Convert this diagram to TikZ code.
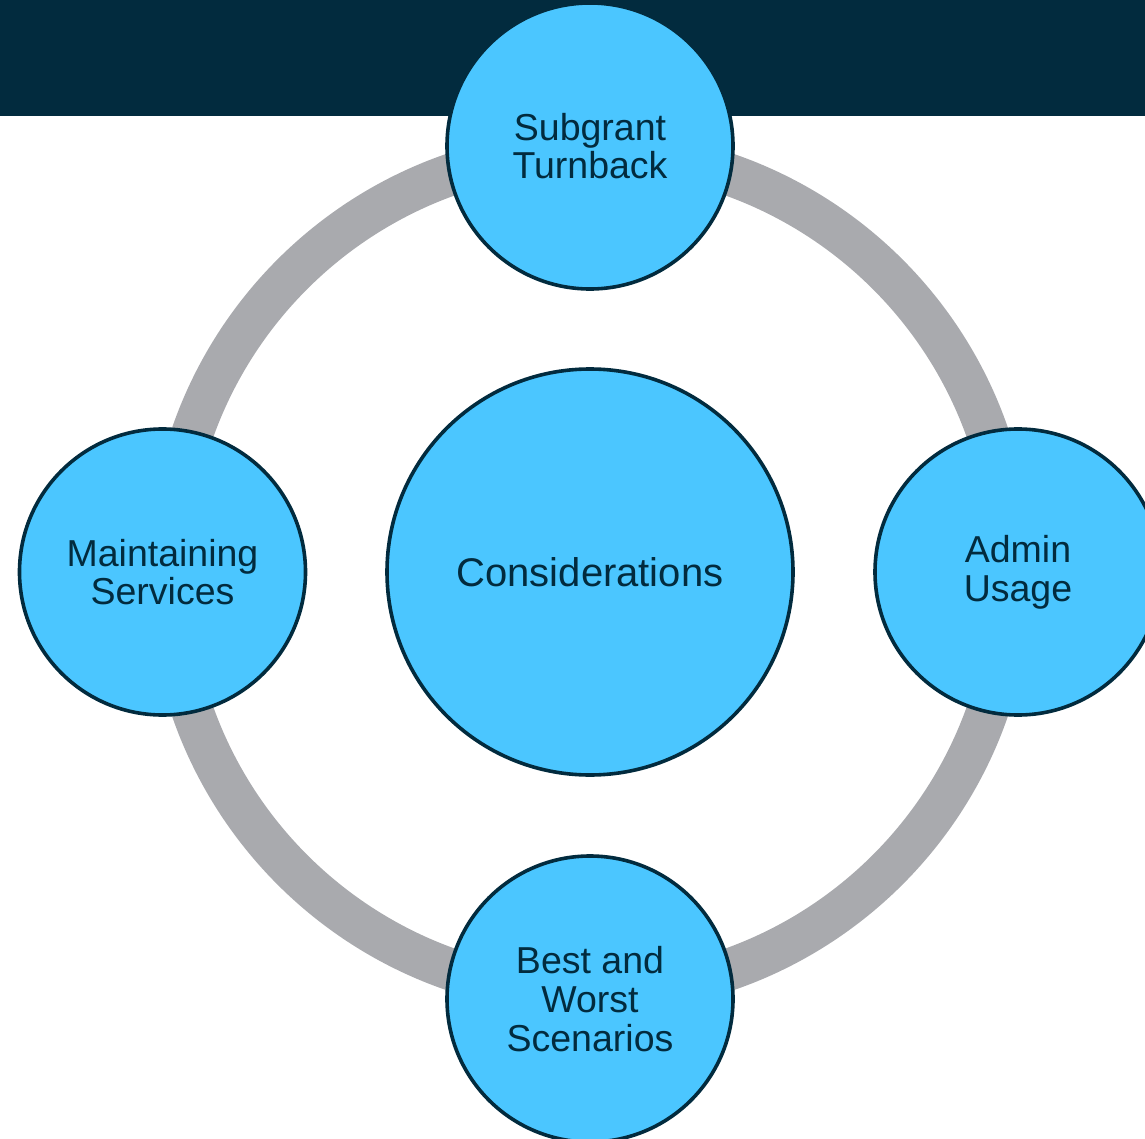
\documentclass[tikz,border=0pt]{standalone}
\usepackage{fontspec}
\setmainfont{Liberation Sans}
\definecolor{navy}{HTML}{022B3E}
\definecolor{bubble}{HTML}{4BC6FF}
\definecolor{ringgray}{HTML}{A9AAAE}
\begin{document}
\begin{tikzpicture}[x=1pt,y=-1pt,
  bub/.style={circle,draw=navy,line width=3.6pt,fill=bubble,text=navy,
    inner sep=0pt,align=center,minimum size=286pt,
    font=\fontsize{37.5}{38.8}\selectfont},
  bigbub/.style={bub,minimum size=406pt,font=\fontsize{40}{42}\selectfont}]
\useasboundingbox (0,0) rectangle (1145,1139);
\clip (0,0) rectangle (1145,1139);
\fill[navy] (0,0) rectangle (1145,116);
\coordinate (c) at (590,572);
\draw[ringgray,line width=42pt] (c) circle[radius=421];
\node[bigbub] (cons) at (c) {Considerations};
\node[bub] (top) at (590,146) {Subgrant\\Turnback};
\node[bub] (left) at (162.5,572) {Maintaining\\Services};
\node[bub] (right) at (1018,572) {Admin\\Usage};
\node[bub] (bottom) at (590,999) {Best and\\Worst\\Scenarios};
\end{tikzpicture}
\end{document}
